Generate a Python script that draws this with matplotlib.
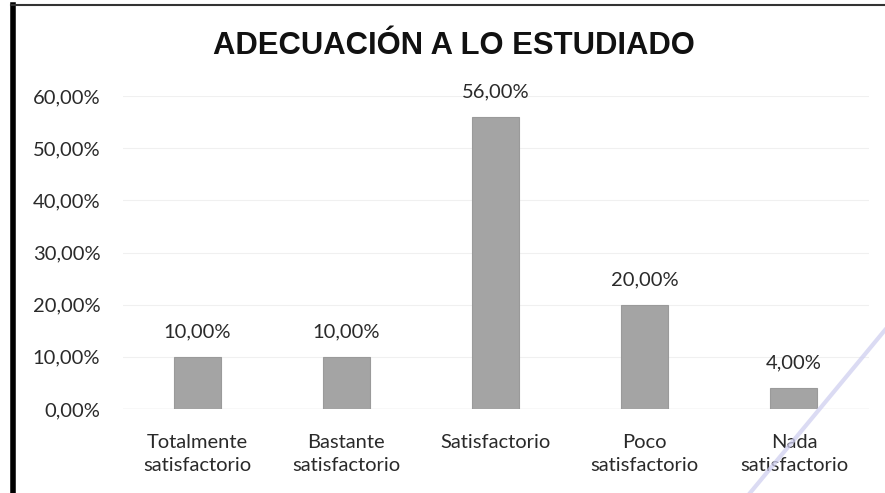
import matplotlib
matplotlib.use("Agg")
import matplotlib.pyplot as plt
from matplotlib.lines import Line2D
from matplotlib.ticker import FuncFormatter

categories = ["Totalmente\nsatisfactorio", "Bastante\nsatisfactorio", "Satisfactorio",
              "Poco\nsatisfactorio", "Nada\nsatisfactorio"]
values = [10.0, 10.0, 56.0, 20.0, 4.0]
yticks = [0, 10, 20, 30, 40, 50, 60]
title = "ADECUACIÓN A LO ESTUDIADO"

W, H = 885, 493
fig = plt.figure(figsize=(W/100, H/100), dpi=100)
fig.patch.set_facecolor("white")

def fmt(v):
    return f"{v:.2f}".replace(".", ",") + "%"

FS = 14.5
ax = fig.add_axes([122.5/W, 1-409/H, (868.5-122.5)/W, (409-96)/H])
x = list(range(len(values)))
ax.bar(x, values, width=0.315, color="#a4a4a4", edgecolor="#9a9a9a", linewidth=0.8, zorder=3)
ax.set_xlim(-0.5, len(values)-0.5)
ax.set_ylim(0, 60)
ax.set_yticks(yticks)
ax.yaxis.set_major_formatter(FuncFormatter(lambda v, p: fmt(v)))
ax.set_xticks(x)
ax.set_xticklabels(categories, fontsize=FS, family="Lato", color="#2a2a2a", va="top",
                   linespacing=1.4)
for lab in ax.get_yticklabels():
    lab.set_fontsize(FS); lab.set_family("Lato"); lab.set_color("#2a2a2a")
ax.tick_params(axis="both", length=0)
ax.tick_params(axis="x", pad=18)
ax.tick_params(axis="y", pad=16)
ax.grid(axis="y", color="#f0f0f0", linewidth=0.8, zorder=0)
for s in ax.spines.values():
    s.set_visible(False)
ax.axhline(0, color="#e4e4e4", linewidth=1, zorder=2)

for xi, v in zip(x, values):
    ax.annotate(fmt(v), (xi, v), xytext=(0, 12), textcoords="offset points",
                ha="center", va="bottom", fontsize=FS, family="Lato", color="#2a2a2a")

fig.text(454/W, 1-46.5/H, title, ha="center", va="center", fontsize=22.3,
         family="Liberation Sans", weight="bold", color="#111111")

fig.add_artist(Line2D([13/W, 13/W], [0, 1-5/H], color="black", linewidth=4, transform=fig.transFigure))
fig.add_artist(Line2D([11/W, 1], [1-5/H, 1-5/H], color="#333333", linewidth=1.5, transform=fig.transFigure))
fig.add_artist(Line2D([885/W, 750/W], [1-330/H, 0], color="#cfcff0", linewidth=3, alpha=0.75,
                      transform=fig.transFigure, zorder=10))

fig.savefig("out.png", dpi=100)
